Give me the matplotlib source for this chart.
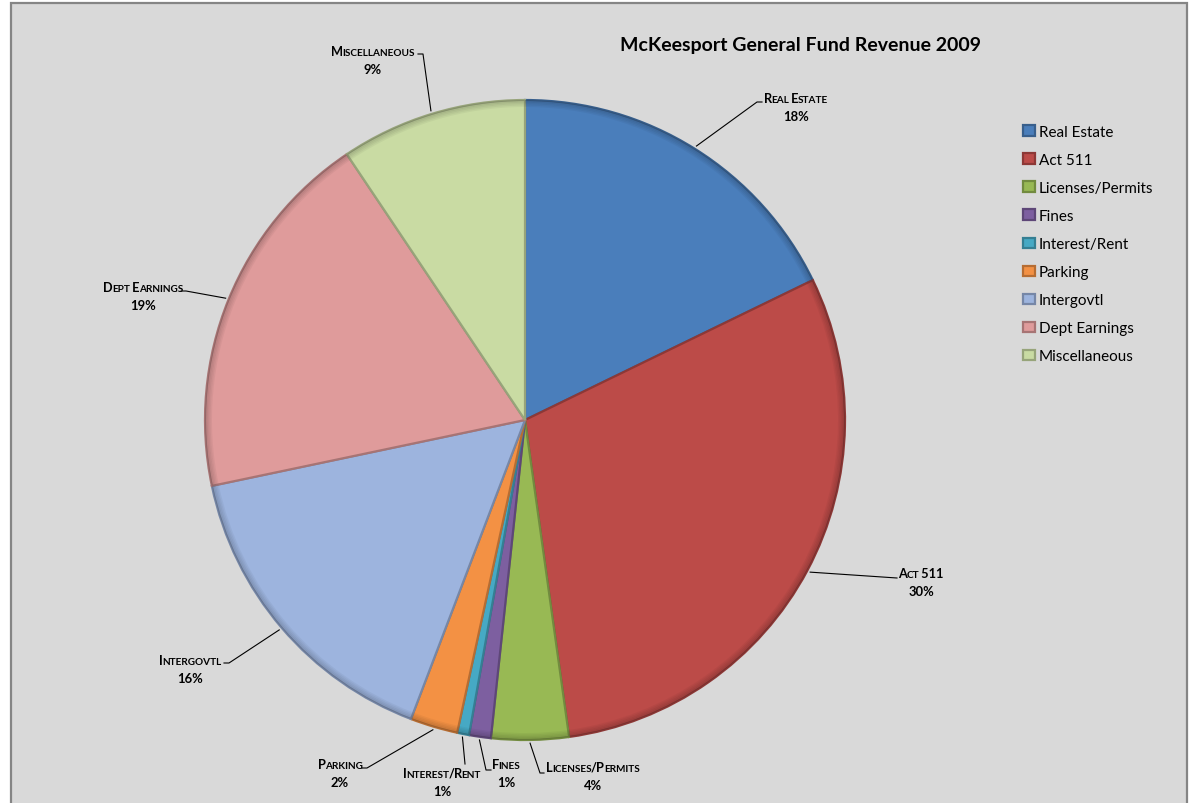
import numpy as np
import matplotlib
matplotlib.use("Agg")
import matplotlib.pyplot as plt
from matplotlib.patches import Rectangle, Wedge
from matplotlib.offsetbox import TextArea, HPacker, VPacker, AnnotationBbox
from matplotlib.colors import to_rgb

FONT = ["Lato", "DejaVu Sans"]
plt.rcParams["font.family"] = FONT

W, H = 1189, 804

title = "McKeesport General Fund Revenue 2009"
categories = ["Real Estate", "Act 511", "Licenses/Permits", "Fines", "Interest/Rent",
              "Parking", "Intergovtl", "Dept Earnings", "Miscellaneous"]
shares = [17.8, 30.0, 3.9, 1.1, 0.6, 2.4, 15.9, 18.9, 9.4]
colors = ["#4a7ebb", "#bc4b48", "#98b954", "#7d5fa0", "#46a9c4",
          "#f39144", "#9db4de", "#df9b9b", "#c9dba3"]

# label placement in pixels from the top left: (text x, text y, leader bend points)
label_pos = [
    (796, 108, [(757, 103), (762, 103)]),
    (921, 583, [(897, 579)]),
    (593, 777, [(540, 774), (544, 774)]),
    (506, 774, [(486, 771), (491, 771)]),
    (442, 783, [(465, 765)]),
    (340, 774, [(367, 769), (362, 769)]),
    (190, 670, [(229, 664), (224, 664)]),
    (143, 297, [(186, 292), (181, 292)]),
    (373, 61, [(423, 55), (418, 55)]),
]

cx, cy, r = 525, 421, 320


def px(x, y):
    return x, H - y


def darker(c, f=0.7):
    return tuple(v * f for v in to_rgb(c))


fig = plt.figure(figsize=(W / 100, H / 100), dpi=100)
fig.patch.set_facecolor("white")
ax = fig.add_axes([0, 0, 1, 1])

# chart area
ax.add_patch(Rectangle(px(11, 820), 1176, 816, facecolor="#d9d9d9",
                       edgecolor="#858585", lw=1.6, zorder=0))

wedges, _ = ax.pie(shares, colors=colors, startangle=90, counterclock=False,
                   center=px(cx, cy), radius=r,
                   wedgeprops=dict(linewidth=1.6))
for w, c in zip(wedges, colors):
    w.set_edgecolor(darker(c, 0.75))
    w.set_zorder(2)
    # soft bevel along the rim
    for k in range(5):
        ax.add_patch(Wedge(w.center, w.r - k * 1.4, w.theta1, w.theta2, width=1.4,
                           facecolor=darker(c, 0.55), alpha=0.45 * (1 - k / 5),
                           lw=0, zorder=2.5))

total = sum(shares)
start = 0.0
for name, val, (lx, ly, bends) in zip(categories, shares, label_pos):
    mid = np.deg2rad((start + val / 2) / total * 360)
    start += val
    ex, ey = cx + r * 1.01 * np.sin(mid), cy - r * 1.01 * np.cos(mid)
    pts = [(ex, ey)] + bends
    ax.plot([p[0] for p in pts], [H - p[1] for p in pts], color="black", lw=0.8, zorder=3)

    # small caps: lowercase letters become smaller capitals
    runs = []
    for ch in name:
        low = ch.islower()
        if runs and runs[-1][1] == low:
            runs[-1][0] += ch
        else:
            runs.append([ch, low])
    parts = [TextArea(t.upper(), textprops=dict(size=7.2 if low else 9.2, weight="bold",
                                                 family=FONT, color="black"))
             for t, low in runs]
    line1 = HPacker(children=parts, align="baseline", pad=0, sep=-0.6)
    line2 = TextArea("%.0f%%" % (val / total * 100),
                     textprops=dict(size=9.4, weight="bold", family=FONT))
    box = VPacker(children=[line1, line2], align="center", pad=0, sep=5)
    ab = AnnotationBbox(box, px(lx, ly), xycoords="data", frameon=False,
                        box_alignment=(0.5, 0.5), zorder=4)
    ax.add_artist(ab)

ax.set_xlim(0, W)
ax.set_ylim(0, H)
ax.set_aspect("equal")
ax.axis("off")

leg = ax.legend(wedges, categories, loc="upper left", frameon=False,
                bbox_to_anchor=px(1023, 126), bbox_transform=ax.transData,
                fontsize=11, labelspacing=0.92, handlelength=0.8,
                handleheight=0.7, handletextpad=0.25, borderaxespad=0, borderpad=0)

fig.text(800 / W, 1 - 45 / H, title, ha="center", va="center",
         fontsize=14, weight="bold")

fig.savefig("out.png", dpi=100, facecolor=fig.get_facecolor())
